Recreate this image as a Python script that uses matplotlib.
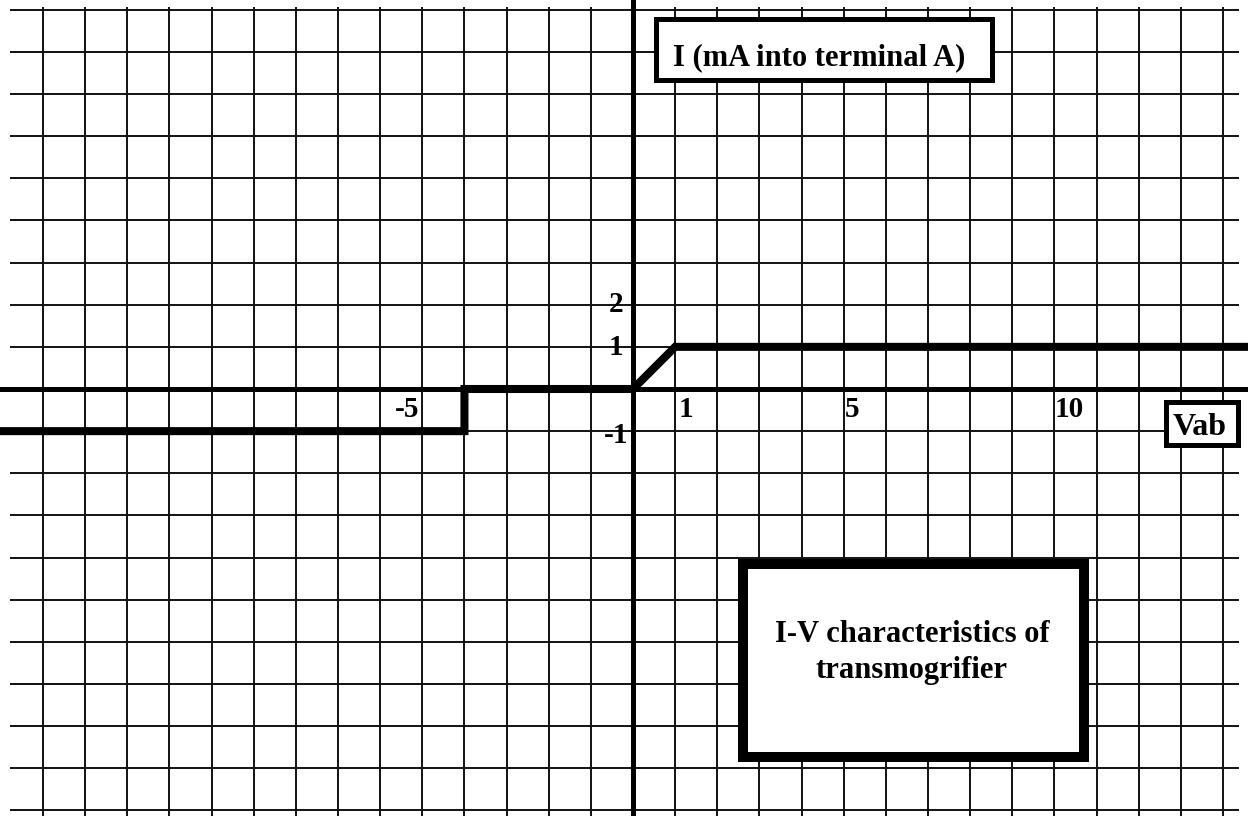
import numpy as np
import matplotlib
matplotlib.use("Agg")
import matplotlib.pyplot as plt
from matplotlib.patches import Rectangle

# -------------------------------------------------------
# Daten: I-V Kennlinie (Vab in V, I in mA)
# -------------------------------------------------------
V_ab = [-15.2, -4, -4, 0, 1, 14.8]
I_mA = [-1, -1, 0, 0, 1, 1]

# Achsenbeschriftungen (Text, x, y)
x_tick_labels = ["-5", "1", "5", "10"]
x_tick_pos = [-5.36, 1.26, 5.2, 10.35]
y_tick_labels = ["2", "1", "-1"]
y_tick_pos = [1.83, 0.81, -1.28]

title_text = "I (mA into terminal A)"
xaxis_text = "Vab"
caption_lines = ["I-V characteristics of", "transmogrifier"]

# -------------------------------------------------------
# Plot Setup
# -------------------------------------------------------
plt.rcParams['font.family'] = ['Liberation Serif', 'DejaVu Serif']

px = 42.14  # Pixel pro Einheit
fig = plt.figure(figsize=(12.48, 8.16), dpi=100)
ax = fig.add_axes([0, 0, 1, 1])
ax.set_xlim(-633 / px, (1248 - 633) / px)
ax.set_ylim(-(816 - 389) / px, 389 / px)
ax.axis('off')

# Kariertes Papier
gx = np.arange(-14, 15)
gy = np.arange(-10, 10)
ax.vlines(gx, -10.2, 9.06, color='#111111', lw=1.4, zorder=1)
ax.hlines(gy, -14.78, 14.38, color='#111111', lw=1.4, zorder=1)

# Achsen
ax.axhline(0, color='black', lw=3.6, zorder=2)
ax.axvline(0, color='black', lw=3.6, zorder=2)

# Kennlinie
ax.plot(V_ab, I_mA, color='black', lw=5.8, solid_joinstyle='miter',
        solid_capstyle='butt', zorder=3)

fs = 21
for lab, x in zip(x_tick_labels, x_tick_pos):
    ax.text(x, -0.67, lab, ha='center', va='baseline', fontsize=fs,
            fontweight='bold', zorder=4)
for lab, y in zip(y_tick_labels, y_tick_pos):
    ax.text(-0.4, y, lab, ha='center', va='baseline', fontsize=fs,
            fontweight='bold', zorder=4)

# Kasten oben: Strom-Achse
ax.add_patch(Rectangle((0.534, 7.34), 8.53 - 0.534, 8.77 - 7.34,
                       facecolor='white', edgecolor='black', lw=3.6, zorder=5))
ax.text(4.41, 7.69, title_text, ha='center', va='baseline', fontsize=22,
        fontweight='bold', zorder=6)

# Kasten Vab
ax.add_patch(Rectangle((12.66, -1.34), 14.35 - 12.66, 1.34 - 0.297,
                       facecolor='white', edgecolor='black', lw=3.6, zorder=5))
ax.text(13.45, -1.09, xaxis_text, ha='center', va='baseline', fontsize=23,
        fontweight='bold', zorder=6)

# Grosser Kasten
ax.add_patch(Rectangle((2.61, -8.73), 10.70 - 2.61, 8.73 - 4.15,
                       facecolor='white', edgecolor='black', lw=7.2, zorder=5))
ax.text(6.62, -6.0, caption_lines[0], ha='center', va='baseline', fontsize=22,
        fontweight='bold', zorder=6)
ax.text(6.62, -6.86, caption_lines[1], ha='center', va='baseline', fontsize=22,
        fontweight='bold', zorder=6)

fig.savefig("out.png", dpi=100)
